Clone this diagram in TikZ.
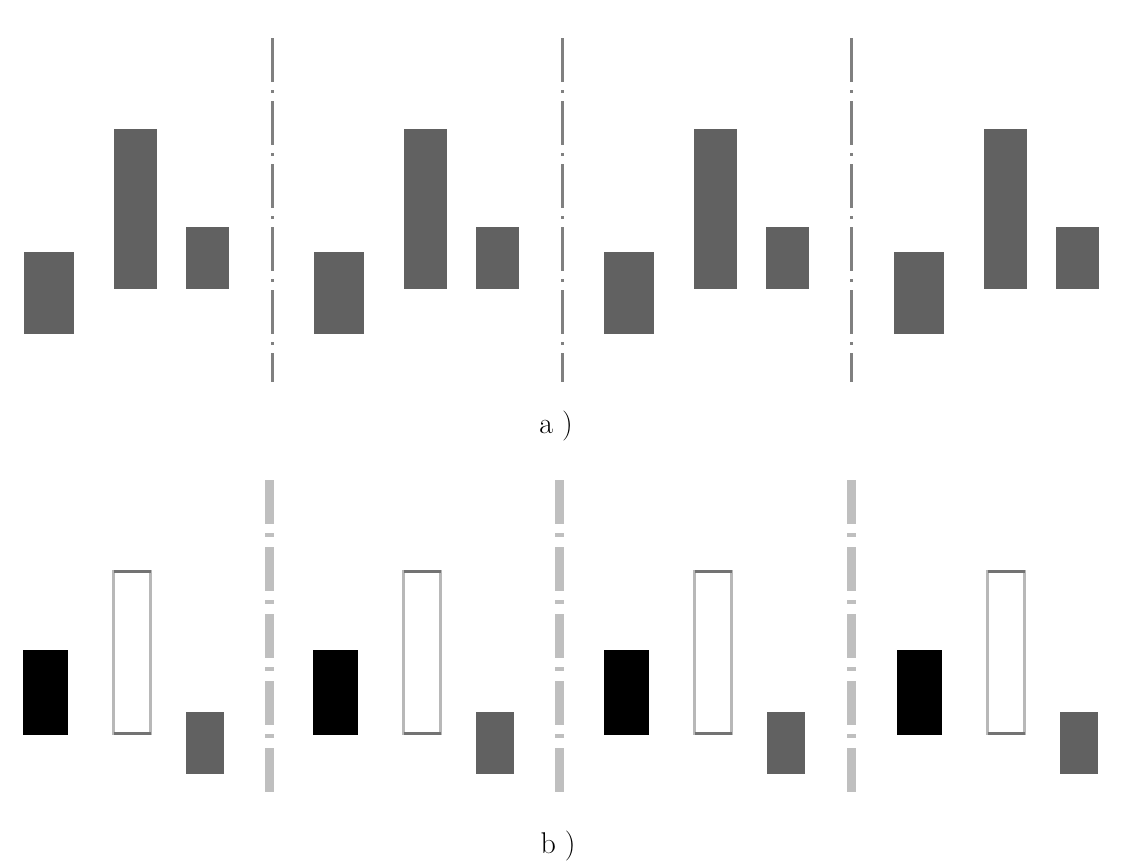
\documentclass[tikz,border=0pt]{standalone}
\begin{document}
\begin{tikzpicture}[x=1pt,y=-1pt,
  graybar/.style={fill=black!62,draw=none,inner sep=0pt,outer sep=0pt,anchor=north west},
  blackbar/.style={fill=black,draw=none,inner sep=0pt,outer sep=0pt,anchor=north west},
  openbar/.style={fill=white,draw=black!28,line width=3.5pt,inner sep=0pt,outer sep=0pt,anchor=north west},
  openedge/.style={draw=black!55,line width=3.5pt},
  axisA/.style={draw=black!50,line width=3pt,dash pattern=on 44pt off 8pt on 3pt off 8pt},
  axisB/.style={draw=black!25,line width=9pt,dash pattern=on 44pt off 9pt on 4pt off 10pt},
  captext/.style={font=\fontsize{30}{36}\selectfont}]
\useasboundingbox (0,0) rectangle (1124,863);
% panel a
\foreach \i/\o in {1/0,2/290,3/580,4/870}{
  \node[graybar,minimum width=50pt,minimum height=82pt] (a\i l) at (24+\o,252) {};
  \node[graybar,minimum width=43pt,minimum height=160pt] (a\i m) at (114+\o,129) {};
  \node[graybar,minimum width=43pt,minimum height=62pt] (a\i r) at (186+\o,227) {};
}
\foreach \i/\x in {1/272,2/562,3/851}{
  \coordinate (at\i) at (\x,38);
  \coordinate (ab\i) at (\x,382);
  \draw[axisA] (at\i) -- (ab\i);
}
\node[captext] (capa) at (556,426) {a\hspace{0.3em})};
% panel b
\foreach \i/\o in {1/0,2/290,3/581,4/874}{
  \node[blackbar,minimum width=45pt,minimum height=85pt] (b\i l) at (23+\o,650) {};
  \node[openbar,minimum width=37pt,minimum height=162pt] (b\i m) at (113.5+\o,571.5) {};
  \draw[openedge] (b\i m.north west) -- (b\i m.north east);
  \draw[openedge] (b\i m.south west) -- (b\i m.south east);
  \node[graybar,minimum width=38pt,minimum height=62pt] (b\i r) at (186+\o,712) {};
}
\foreach \i/\x in {1/269,2/559,3/851}{
  \coordinate (bt\i) at (\x,480);
  \coordinate (bb\i) at (\x,792);
  \draw[axisB] (bt\i) -- (bb\i);
}
\node[captext] (capb) at (558,846) {b\hspace{0.3em})};
\end{tikzpicture}
\end{document}
